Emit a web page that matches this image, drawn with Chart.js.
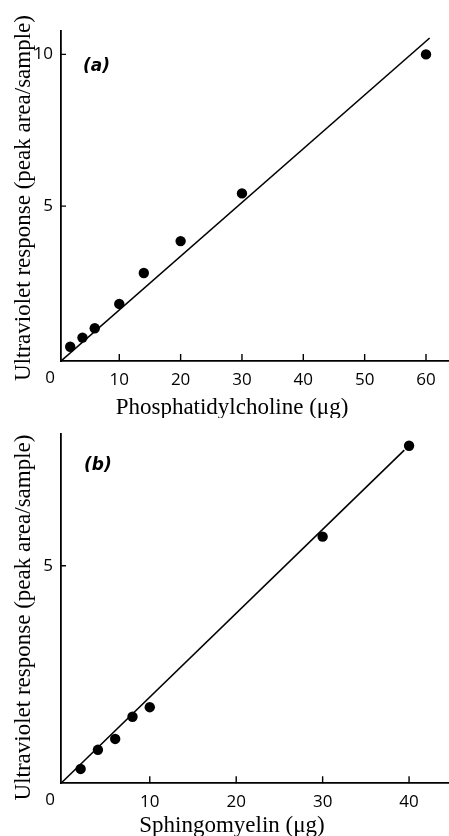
<!DOCTYPE html>
<html><head><meta charset="utf-8">
<script src="https://cdn.jsdelivr.net/npm/chart.js@4"></script>
<style>html,body{margin:0;padding:0;background:#fff;overflow:hidden}.box{position:relative;width:449px;height:418px}</style>
</head><body>
<div class="box"><canvas id="ca"></canvas></div>
<div class="box"><canvas id="cb"></canvas></div>
<script>
// Panel (a): phosphatidylcholine
const pcDose = [2, 4, 6, 10, 14, 20, 30, 60];
const pcResponse = [0.37, 0.67, 0.98, 1.78, 2.8, 3.85, 5.42, 10.0];
const pcFitDose = [0.5, 60.6];
const pcFitResponse = [-0.1, 10.54];
const pcXTicks = [10, 20, 30, 40, 50, 60];
const pcYTicks = [5, 10];

// Panel (b): sphingomyelin
const smDose = [2, 4, 6, 8, 10, 30, 40];
const smResponse = [0.33, 0.77, 1.02, 1.53, 1.75, 5.67, 7.76];
const smFitDose = [-0.27, 39.45];
const smFitResponse = [0, 7.66];
const smXTicks = [10, 20, 30, 40];
const smYTicks = [5];

const yTitle = 'Ultraviolet response (peak area/sample)';

function pts(xs, ys) { return xs.map((x, i) => ({x: x, y: ys[i]})); }

const decor = {
  id: 'decor',
  afterDraw(chart, args, o) {
    const ctx = chart.ctx, xs = chart.scales.x, ys = chart.scales.y;
    const a = chart.chartArea;
    ctx.save();
    ctx.strokeStyle = '#000';
    ctx.lineWidth = 1.4;
    ctx.beginPath();
    xs.ticks.forEach(t => {
      const px = xs.getPixelForValue(t.value);
      ctx.moveTo(px, a.bottom); ctx.lineTo(px, a.bottom - 7);
    });
    ys.ticks.forEach(t => {
      const py = ys.getPixelForValue(t.value);
      ctx.moveTo(a.left, py); ctx.lineTo(a.left + 5, py);
    });
    ctx.stroke();
    ctx.fillStyle = '#000';
    ctx.font = '17px "Open Sans"';
    ctx.textAlign = 'center';
    ctx.textBaseline = 'middle';
    ctx.fillText('0', a.left - 11, a.bottom + 17);
    ctx.font = 'bold italic 17px "DejaVu Sans"';
    ctx.fillText(o.label, xs.getPixelForValue(o.lx), ys.getPixelForValue(o.ly));
    // axis titles
    ctx.font = '23px "Liberation Serif"';
    ctx.fillText(o.xTitle, o.xtX, chart.height - 10.5);
    ctx.save();
    ctx.translate(23.5, o.ytY);
    ctx.rotate(-Math.PI / 2);
    ctx.fillText(yTitle, 0, 0);
    ctx.restore();
    ctx.restore();
  }
};

function make(id, c) {
  return new Chart(document.getElementById(id), {
    type: 'scatter',
    data: {
      datasets: [
        {data: pts(c.dose, c.resp), showLine: false, pointRadius: 5.2, pointHoverRadius: 5.2,
         backgroundColor: '#000', borderColor: '#000', borderWidth: 0},
        {data: pts(c.fitX, c.fitY), showLine: true, pointRadius: 0, borderColor: '#000',
         borderWidth: 1.6, backgroundColor: '#000'}
      ]
    },
    options: {
      responsive: true, maintainAspectRatio: false, animation: false,
      layout: {autoPadding: false, padding: {top: c.top, left: 0, right: 0, bottom: 0}},
      plugins: {legend: {display: false}, tooltip: {enabled: false},
        decor: {label: c.label, lx: c.lx, ly: c.ly, xTitle: c.xTitle, xtX: c.xtX, ytY: c.ytY}},
      scales: {
        x: {
          type: 'linear', min: c.xmin, max: c.xmax,
          afterBuildTicks: s => { s.ticks = c.xt.map(v => ({value: v})); },
          afterFit: s => { s.height = c.xh; s.paddingRight = 0; s.paddingLeft = 0; },
          grid: {display: false, drawTicks: false},
          border: {display: true, color: '#000', width: 1.8},
          ticks: {color: '#000', padding: 9, font: {family: 'Open Sans', size: 17}, maxRotation: 0},
          title: {display: false, text: c.xTitle}
        },
        y: {
          type: 'linear', min: c.ymin, max: c.ymax,
          afterBuildTicks: s => { s.ticks = c.yt.map(v => ({value: v})); },
          afterFit: s => { s.width = 61; s.paddingTop = 0; s.paddingBottom = 0; },
          grid: {display: false, drawTicks: false},
          border: {display: true, color: '#000', width: 1.8},
          ticks: {color: '#000', padding: 8, font: {family: 'Open Sans', size: 17}},
          title: {display: false, text: yTitle}
        }
      }
    },
    plugins: [decor]
  });
}

make('ca', {dose: pcDose, resp: pcResponse, fitX: pcFitDose, fitY: pcFitResponse,
  xt: pcXTicks, yt: pcYTicks, xmin: 0.5, xmax: 63.75, ymin: -0.1, ymax: 10.77,
  top: 31, xh: 57, xTitle: 'Phosphatidylcholine (\u03bcg)', label: '(a)', lx: 6.3, ly: 9.6,
  xtX: 232, ytY: 198});
make('cb', {dose: smDose, resp: smResponse, fitX: smFitDose, fitY: smFitResponse,
  xt: smXTicks, yt: smYTicks, xmin: -0.27, xmax: 44.62, ymin: 0, ymax: 8.03,
  top: 16, xh: 52.7, xTitle: 'Sphingomyelin (\u03bcg)', label: '(b)', lx: 4, ly: 7.3,
  xtX: 232, ytY: 199.5});
</script>
</body></html>
